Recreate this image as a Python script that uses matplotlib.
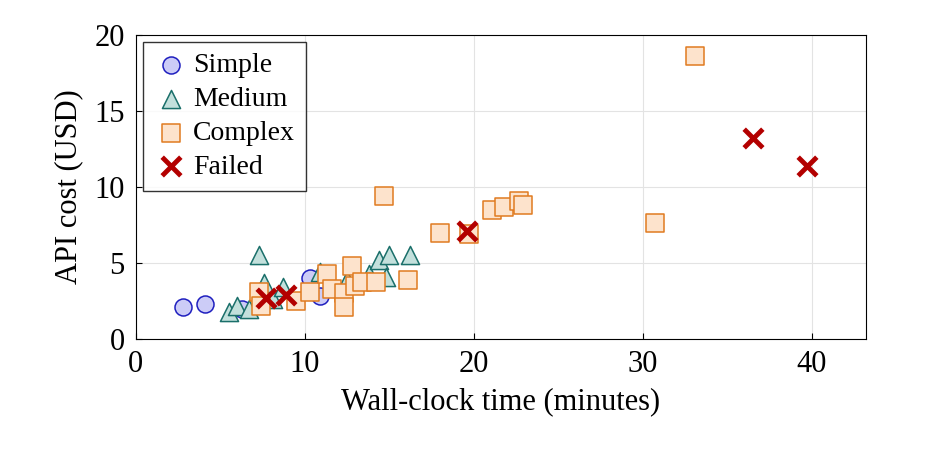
import matplotlib.pyplot as plt

plt.rcParams['font.family'] = ['Liberation Serif', 'DejaVu Serif']
plt.rcParams['mathtext.fontset'] = 'stix'

simple_x = [2.8, 4.1, 6.3, 10.3, 10.9]
simple_y = [2.1, 2.3, 2.0, 4.0, 2.8]

medium_x = [5.5, 6.0, 6.7, 7.3, 7.6, 8.1, 8.7, 10.9, 12.5, 13.8, 14.4, 14.8, 15.0, 16.2]
medium_y = [1.8, 2.2, 2.0, 5.5, 3.7, 2.6, 3.4, 4.4, 3.9, 4.3, 5.2, 4.1, 5.5, 5.5]

complex_x = [7.3, 7.4, 9.5, 10.3, 11.3, 11.6, 12.3, 12.3, 12.8, 13.0, 13.4, 14.2, 16.1,
             14.7, 18.0, 19.7, 21.1, 21.8, 22.7, 22.9, 30.7, 33.1]
complex_y = [3.1, 2.2, 2.5, 3.1, 4.3, 3.3, 3.0, 2.1, 4.8, 3.5, 3.75, 3.75, 3.9,
             9.4, 7.0, 6.9, 8.5, 8.7, 9.1, 8.8, 7.6, 18.6]

failed_x = [7.7, 8.9, 19.6, 36.5, 39.7]
failed_y = [2.7, 2.9, 7.1, 13.2, 11.4]

fig = plt.figure(figsize=(9.3, 4.66), dpi=100)
ax = fig.add_axes([0.146, 0.2725, 0.785, 0.6525])

ax.scatter(simple_x, simple_y, s=150, marker='o', facecolor='#ccccf7', edgecolor='#1f1fbf', linewidth=1.1, label='Simple', zorder=3)
ax.scatter(medium_x, medium_y, s=170, marker='^', facecolor='#c3e0dc', edgecolor='#1a6f6a', linewidth=1.1, label='Medium', zorder=3)
ax.scatter(complex_x, complex_y, s=150, marker='s', facecolor='#fde3cc', edgecolor='#e07b20', linewidth=1.1, label='Complex', zorder=3)
ax.scatter(failed_x, failed_y, s=180, marker='x', color='#b30000', linewidth=3.5, label='Failed', zorder=4)

ax.set_xlim(0, 43.2)
ax.set_ylim(0, 20)
ax.set_xticks([0, 10, 20, 30, 40])
ax.set_yticks([0, 5, 10, 15, 20])
ax.grid(True, color='#e3e3e3', linewidth=0.8, zorder=0)
ax.set_axisbelow(True)
ax.tick_params(labelsize=22, direction='in', length=4, pad=8)
ax.set_xlabel('Wall-clock time (minutes)', fontsize=22, labelpad=6)
ax.set_ylabel('API cost (USD)', fontsize=22, labelpad=8)

leg = ax.legend(loc='upper left', fontsize=20, frameon=True, fancybox=False,
                edgecolor='black', borderaxespad=0.25, handletextpad=0.2,
                labelspacing=0.3, handlelength=1.2, borderpad=0.4)
leg.get_frame().set_linewidth(1.0)

fig.savefig('out.png', dpi=100)
